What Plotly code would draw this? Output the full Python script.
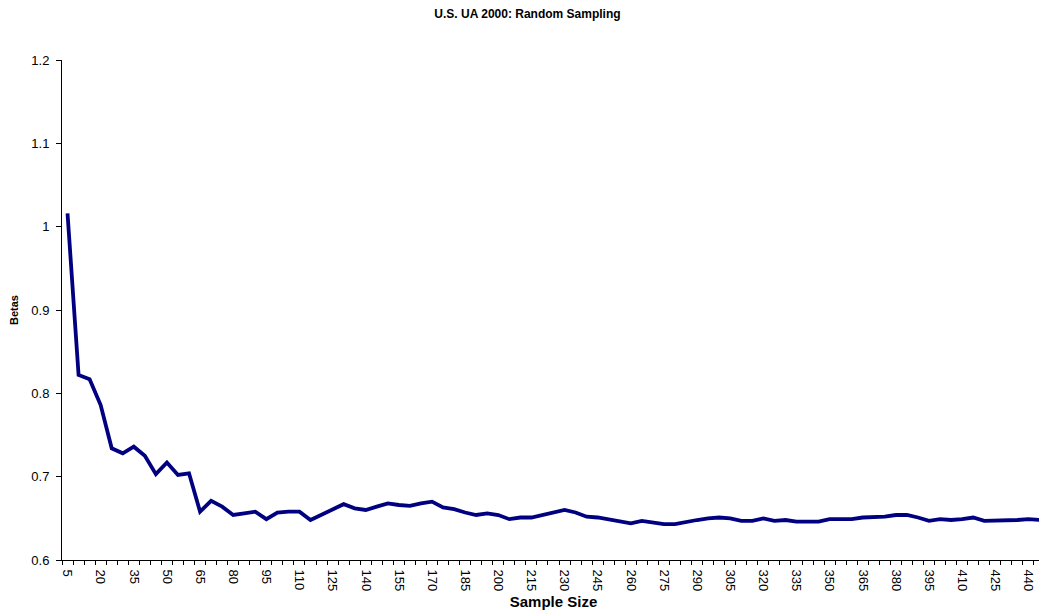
import plotly.graph_objects as go

sample_sizes = list(range(5, 450, 5))
betas = [
    1.016, 0.822, 0.817, 0.786, 0.734, 0.728, 0.736, 0.725, 0.703, 0.717,
    0.702, 0.704, 0.658, 0.671, 0.664, 0.654, 0.656, 0.658, 0.649, 0.657,
    0.658, 0.658, 0.648, 0.654, 0.660, 0.667, 0.662, 0.660, 0.664, 0.668,
    0.666, 0.665, 0.668, 0.670, 0.663, 0.661, 0.657, 0.654, 0.656, 0.654,
    0.649, 0.651, 0.651, 0.654, 0.657, 0.660, 0.657, 0.652, 0.651, 0.649,
    0.647, 0.644, 0.647, 0.645, 0.643, 0.643, 0.646, 0.648, 0.650, 0.651,
    0.650, 0.647, 0.647, 0.650, 0.647, 0.648, 0.646, 0.646, 0.646, 0.649,
    0.649, 0.649, 0.651, 0.651, 0.652, 0.654, 0.654, 0.651, 0.647, 0.649,
    0.648, 0.649, 0.651, 0.647, 0.647, 0.647, 0.648, 0.649, 0.648,
]
y_tick_values = [0.6, 0.7, 0.8, 0.9, 1.0, 1.1, 1.2]
y_tick_labels = ["0.6", "0.7", "0.8", "0.9", "1", "1.1", "1.2"]

FONT = "Liberation Sans, Arial, sans-serif"

fig = go.Figure()
fig.add_trace(go.Scatter(
    x=sample_sizes, y=betas, mode="lines",
    line=dict(color="#000080", width=3.8),
    showlegend=False,
))

fig.update_layout(
    width=1039, height=605,
    margin=dict(l=54, r=2, t=52, b=53),
    paper_bgcolor="white", plot_bgcolor="white",
    font=dict(family=FONT, size=13, color="black"),
    title=dict(text="<b>U.S. UA 2000: Random Sampling</b>", x=0.5, xanchor="center",
               y=0.99, yanchor="middle", font=dict(size=12, family=FONT)),
    xaxis=dict(
        range=[2.5, 447.5], tickmode="linear", tick0=5, dtick=15,
        ticks="outside", ticklen=0, tickangle=90, tickfont=dict(size=13),
        ticklabelstandoff=6,
        showline=True, linecolor="black", linewidth=1, showgrid=False, zeroline=False,
        automargin=False,
        minor=dict(tickmode="linear", tick0=2.5, dtick=5, ticks="outside", ticklen=4,
                   tickcolor="black", showgrid=False),
        title=dict(text="<b>Sample Size</b>", font=dict(size=15), standoff=6),
    ),
    yaxis=dict(
        range=[0.6, 1.2], tickmode="array", tickvals=y_tick_values, ticktext=y_tick_labels,
        ticks="outside", ticklen=5, tickcolor="black", tickfont=dict(size=13),
        ticklabelstandoff=4,
        showline=True, linecolor="black", linewidth=1, showgrid=False, zeroline=False,
        automargin=False,
        title=dict(text="<b>Betas</b>", font=dict(size=11), standoff=12),
    ),
    shapes=[dict(type="line", xref="paper", yref="paper", x0=1, x1=1, y0=0, y1=1,
                 line=dict(color="#909090", width=1))],
)

fig.write_html("out.html")
